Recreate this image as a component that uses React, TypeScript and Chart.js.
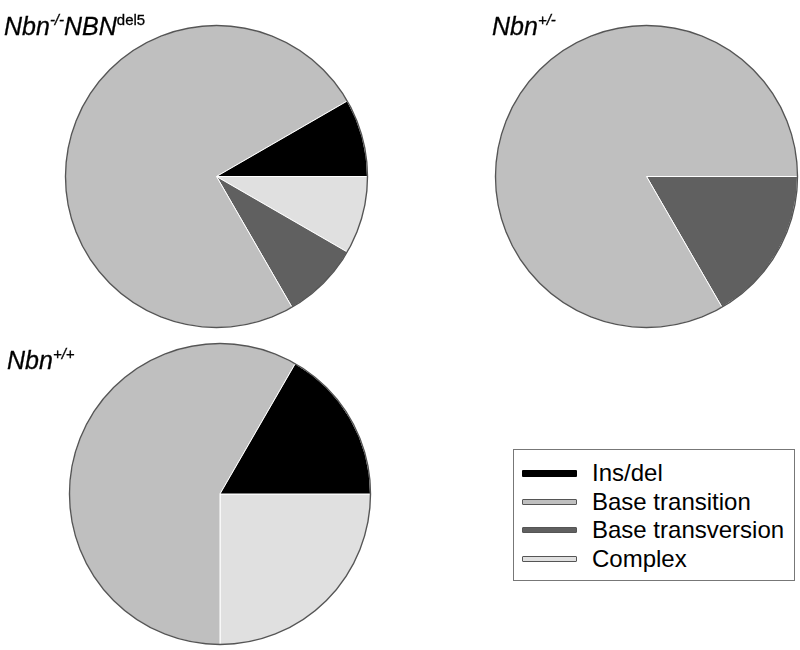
import React, { useEffect, useRef } from "react";
import { Chart, registerables } from "chart.js";

Chart.register(...registerables);

const categories = ["Ins/del", "Base transition", "Base transversion", "Complex"];
const colors = ["#000000", "#bfbfbf", "#606060", "#e0e0e0"];
const nbnNullDel5 = [1, 9, 1, 1];
const nbnHet = [0, 5, 1, 0];
const nbnWt = [2, 7, 0, 3];

const FONT = "'Liberation Sans', Arial, Helvetica, sans-serif";

const outlinePlugin = {
  id: "outline",
  afterDatasetsDraw(chart: any) {
    const meta = chart.getDatasetMeta(0);
    const arc = meta.data[0];
    if (!arc) return;
    const { x, y, outerRadius } = arc.getProps(["x", "y", "outerRadius"], true);
    const ctx = chart.ctx;
    ctx.save();
    ctx.beginPath();
    ctx.arc(x, y, outerRadius, 0, Math.PI * 2);
    ctx.strokeStyle = "#555555";
    ctx.lineWidth = 1.4;
    ctx.stroke();
    ctx.restore();
  },
};

function Pie({ values, left, top, size }: { values: number[]; left: number; top: number; size: number }) {
  const ref = useRef<HTMLCanvasElement | null>(null);
  useEffect(() => {
    if (!ref.current) return;
    // R draws counter-clockwise from 3 o'clock; Chart.js draws clockwise, so reverse order.
    const labels = [...categories].reverse();
    const data = [...values].reverse();
    const bg = [...colors].reverse();
    const chart = new Chart(ref.current, {
      type: "pie",
      data: {
        labels,
        datasets: [
          {
            data,
            backgroundColor: bg,
            borderColor: "#ffffff",
            borderWidth: (c: any) => (c.raw === 0 ? 0 : 1),
          },
        ],
      },
      options: {
        responsive: false,
        animation: false,
        rotation: 90,
        layout: { padding: 1 },
        plugins: { legend: { display: false }, tooltip: { enabled: false } },
      },
      plugins: [outlinePlugin],
    });
    return () => chart.destroy();
  }, [values]);
  return (
    <canvas
      ref={ref}
      width={size}
      height={size}
      style={{ position: "absolute", left, top, width: size, height: size }}
    />
  );
}

function Title({ main, sup, main2, sup2, left, top }: any) {
  const supStyle: React.CSSProperties = { fontSize: 15, verticalAlign: "10px", fontStyle: "italic" };
  return (
    <div
      style={{
        position: "absolute",
        left,
        top,
        fontFamily: FONT,
        fontStyle: "italic",
        fontSize: 25,
        lineHeight: "25px",
        whiteSpace: "nowrap",
        color: "#000",
        WebkitTextStroke: "0.3px #000",
      }}
    >
      {main}
      <span style={supStyle}>{sup}</span>
      {main2 ? main2 : null}
      {sup2 ? <span style={{ ...supStyle, fontStyle: "normal" }}>{sup2}</span> : null}
    </div>
  );
}

const rowCenters = [472, 501, 529, 558];

function Legend() {
  return (
    <div
      style={{
        position: "absolute",
        left: 513,
        top: 449,
        width: 280,
        height: 130,
        border: "1px solid #777",
        background: "#fff",
      }}
    >
      {categories.map((c, i) => {
        const cy = rowCenters[i] - 449;
        const isBlack = i === 0;
        return (
          <React.Fragment key={c}>
            <div
              style={{
                position: "absolute",
                left: 8,
                top: cy - (isBlack ? 3.5 : 3),
                width: isBlack ? 55 : 53,
                height: isBlack ? 7 : 4,
                background: colors[i],
                border: isBlack ? "none" : "1px solid #555",
                borderRadius: 1,
              }}
            />
            <div
              style={{
                position: "absolute",
                left: 78,
                top: cy - 15,
                fontFamily: FONT,
                fontSize: 24,
                lineHeight: "29px",
                whiteSpace: "nowrap",
                color: "#000",
              }}
            >
              {c}
            </div>
          </React.Fragment>
        );
      })}
    </div>
  );
}

export default function App() {
  return (
    <div
      style={{
        position: "fixed",
        left: 0,
        top: 0,
        width: 800,
        height: 650,
        background: "#fff",
        overflow: "hidden",
      }}
    >
      <Pie values={nbnNullDel5} left={64} top={24} size={305} />
      <Pie values={nbnHet} left={494} top={24} size={305} />
      <Pie values={nbnWt} left={68} top={342} size={304} />
      <Title main="Nbn" sup="-/-" main2="NBN" sup2="del5" left={4} top={7} />
      <Title main="Nbn" sup="+/-" left={492} top={7} />
      <Title main="Nbn" sup="+/+" left={7} top={341} />
      <Legend />
    </div>
  );
}
